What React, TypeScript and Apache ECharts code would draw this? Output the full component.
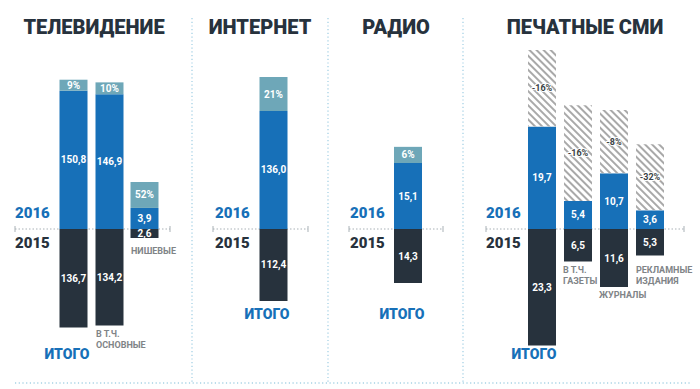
import React, { useEffect, useRef } from "react";
import * as echarts from "echarts";

// ---- data (billion rubles) ----
const tvCats = ["ИТОГО", "В Т.Ч. ОСНОВНЫЕ"];
const tv2016 = [150.8, 146.9];
const tv2015 = [136.7, 134.2];
const tvGrowthSeg = [12, 13];
const tvGrowthPct = ["9%", "10%"];

const nicheCats = ["НИШЕВЫЕ"];
const niche2016 = [3.9];
const niche2015 = [2.6];
const nicheGrowthSeg = [4.8];
const nicheGrowthPct = ["52%"];

const internetCats = ["ИТОГО"];
const internet2016 = [136.0];
const internet2015 = [112.4];
const internetGrowthSeg = [39];
const internetGrowthPct = ["21%"];

const radioCats = ["ИТОГО"];
const radio2016 = [15.1];
const radio2015 = [14.3];
const radioGrowthSeg = [3.7];
const radioGrowthPct = ["6%"];

const printCats = ["ИТОГО", "В Т.Ч. ГАЗЕТЫ", "ЖУРНАЛЫ", "РЕКЛАМНЫЕ ИЗДАНИЯ"];
const print2016 = [19.7, 5.4, 10.7, 3.6];
const print2015 = [23.3, 6.5, 11.6, 5.3];
const printDeclineSeg = [14.7, 18.4, 12.2, 12.7];
const printDeclinePct = ["-16%", "-16%", "-8%", "-32%"];

const titles = ["ТЕЛЕВИДЕНИЕ", "ИНТЕРНЕТ", "РАДИО", "ПЕЧАТНЫЕ СМИ"];
const yearLabels = ["2016", "2015"];

const BLUE = "#1770b8";
const DARK = "#27323d";
const TEAL = "#6ea7b8";
const GRAY = "#808487";
const FONT = "Roboto, 'Open Sans', sans-serif";

const BASE = 229;
const UP_H = 189;
const DOWN_H = 150;

const panels = [
  { cats: tvCats, left: 55.5, sUp: 0.917, sDown: 0.72, v16: tv2016, v15: tv2015, seg: tvGrowthSeg, pct: tvGrowthPct, decline: false },
  { cats: nicheCats, left: 126.5, sUp: 5.4, sDown: 3.46, v16: niche2016, v15: niche2015, seg: nicheGrowthSeg, pct: nicheGrowthPct, decline: false },
  { cats: internetCats, left: 255.5, sUp: 0.868, sDown: 0.64, v16: internet2016, v15: internet2015, seg: internetGrowthSeg, pct: internetGrowthPct, decline: false },
  { cats: radioCats, left: 390, sUp: 4.37, sDown: 3.78, v16: radio2016, v15: radio2015, seg: radioGrowthSeg, pct: radioGrowthPct, decline: false },
  { cats: printCats, left: 524, sUp: 5.2, sDown: 5.0, v16: print2016, v15: print2015, seg: printDeclineSeg, pct: printDeclinePct, decline: true },
];

const fmt = (v: number) => v.toFixed(1).replace(".", ",");

export default function App() {
  const ref = useRef<HTMLDivElement>(null);
  useEffect(() => {
    if (!ref.current) return;
    const chart = echarts.init(ref.current, undefined, { renderer: "svg" });
    const grid: any[] = [];
    const xAxis: any[] = [];
    const yAxis: any[] = [];
    const series: any[] = [];
    panels.forEach((p, i) => {
      const w = p.cats.length * 36;
      grid.push({ left: p.left, width: w, top: BASE - UP_H, height: UP_H });
      grid.push({ left: p.left, width: w, top: BASE, height: DOWN_H });
      xAxis.push({ type: "category", gridIndex: 2 * i, data: p.cats, show: false });
      xAxis.push({ type: "category", gridIndex: 2 * i + 1, data: p.cats, show: false });
      yAxis.push({ type: "value", gridIndex: 2 * i, min: 0, max: UP_H / p.sUp, show: false });
      yAxis.push({ type: "value", gridIndex: 2 * i + 1, min: 0, max: DOWN_H / p.sDown, inverse: true, show: false });
      const lbl = { show: true, position: "inside", color: "#fff", fontSize: 10, fontWeight: "bold", fontFamily: FONT };
      series.push({
        type: "bar", xAxisIndex: 2 * i, yAxisIndex: 2 * i, stack: "up" + i, barWidth: 28,
        data: p.v16, itemStyle: { color: BLUE },
        label: { ...lbl, formatter: (q: any) => fmt(q.value) },
      });
      series.push({
        type: "bar", xAxisIndex: 2 * i, yAxisIndex: 2 * i, stack: "up" + i, barWidth: 28,
        data: p.seg,
        itemStyle: p.decline
          ? { color: "#ffffff", decal: { symbol: "rect", symbolSize: 1, dashArrayX: [1, 0], dashArrayY: [2, 3], rotation: Math.PI / 4, color: "#a9a9a9" } }
          : { color: TEAL },
        label: p.decline
          ? { ...lbl, color: "#3a3f44", textBorderColor: "#fff", textBorderWidth: 2, fontSize: 9, formatter: (q: any) => p.pct[q.dataIndex] }
          : { ...lbl, formatter: (q: any) => p.pct[q.dataIndex] },
      });
      series.push({
        type: "bar", xAxisIndex: 2 * i + 1, yAxisIndex: 2 * i + 1, barWidth: 28,
        data: p.v15, itemStyle: { color: DARK },
        label: { ...lbl, formatter: (q: any) => fmt(q.value) },
      });
    });

    const graphic: any[] = [];
    const dotted = (x1: number, y1: number, x2: number, y2: number, color: string, dash: number[], lw = 1.2) =>
      graphic.push({ type: "line", z: 0, silent: true, shape: { x1, y1, x2, y2 }, style: { stroke: color, lineWidth: lw, lineDash: dash } });
    [192, 328, 463].forEach((x) => dotted(x, 18, x, 384, "#a6d2e5", [1.2, 2.5], 1.3));
    dotted(15, 383, 690, 383, "#a6d2e5", [1.2, 2.5], 1.3);
    [[15, 170], [213, 308], [349, 443], [486, 684]].forEach(([a, b]) => {
      dotted(a, BASE, b, BASE, "#a9b1b6", [1.5, 2], 1);
      dotted(a, BASE - 3, a, BASE + 3, "#a9b1b6", [], 1);
      dotted(b, BASE - 3, b, BASE + 3, "#a9b1b6", [], 1);
    });
    const text = (t: string, x: number, y: number, size: number, color: string, align = "left", weight = "bold") =>
      graphic.push({ type: "text", z: 100, x, y, style: { text: t, fill: color, font: `${weight} ${size}px ${FONT}`, align, verticalAlign: "middle" } });
    [94, 260, 396, 585].forEach((x, i) => text(titles[i], x, 27, 20, DARK, "center", "900"));
    [15, 215, 350, 486].forEach((x) => {
      text(yearLabels[0], x, 213, 15, BLUE, "left", "900");
      text(yearLabels[1], x, 243, 15, DARK, "left", "900");
    });
    text(tvCats[0], 67, 354, 14, BLUE, "center", "900");
    text(internetCats[0], 267, 314, 14, BLUE, "center", "900");
    text(radioCats[0], 402, 314, 14, BLUE, "center", "900");
    text(printCats[0], 534, 354, 14, BLUE, "center", "900");
    text("В Т.Ч.", 96, 334, 9, GRAY);
    text("ОСНОВНЫЕ", 96, 345, 9, GRAY);
    text(nicheCats[0], 131, 251, 9, GRAY);
    text("В Т.Ч.", 563, 270, 9, GRAY);
    text("ГАЗЕТЫ", 563, 281, 9, GRAY);
    text(printCats[2], 599, 295, 9, GRAY);
    text("РЕКЛАМНЫЕ", 636, 270, 9, GRAY);
    text("ИЗДАНИЯ", 636, 281, 9, GRAY);

    chart.setOption({
      animation: false,
      backgroundColor: "#ffffff",
      grid, xAxis, yAxis, series, graphic,
    });
    return () => chart.dispose();
  }, []);
  return <div ref={ref} style={{ position: "fixed", left: 0, top: 0, width: 700, height: 389 }} />;
}
